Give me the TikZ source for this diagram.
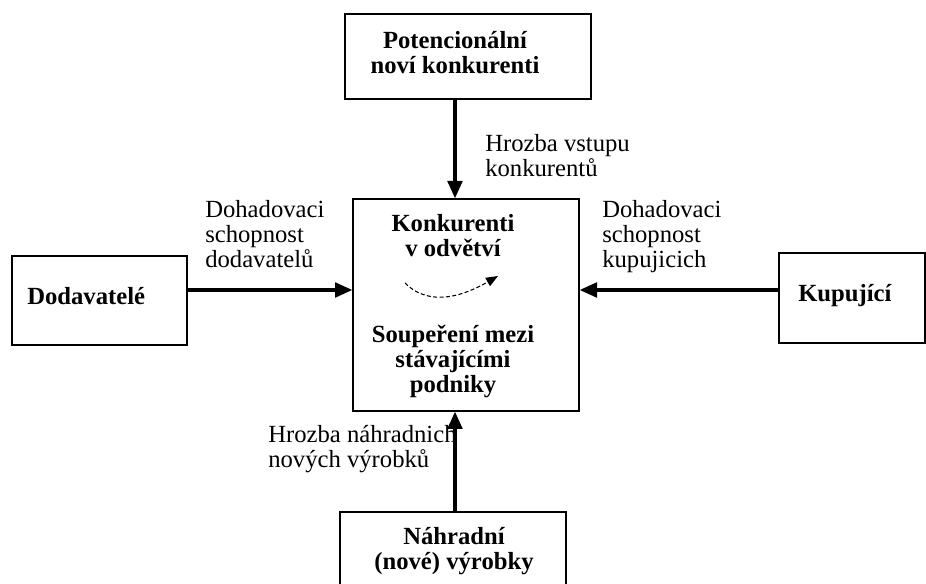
\documentclass[tikz,border=0pt]{standalone}
\usepackage{fontspec}
\setmainfont{Liberation Serif}
\usepackage{tikz}
\usetikzlibrary{arrows.meta}

\begin{document}
\begin{tikzpicture}[x=1pt,y=1pt,
  box/.style={draw,line width=1pt,inner sep=0pt},
  ttl/.style={font=\fontsize{18.5}{18.75}\selectfont\bfseries,align=center,inner sep=0pt},
  lbl/.style={font=\fontsize{18.5}{18.75}\selectfont,align=left,inner sep=0pt,anchor=base west},
  arr/.style={-{Triangle[length=13pt,width=11pt]},line width=2.4pt}]
\useasboundingbox (0,0) rectangle (694.5,438);
% boxes
\node[box,minimum width=184.5pt,minimum height=63.75pt] (pot) at (351,395.6) {};
\node[box,minimum width=169.5pt,minimum height=159pt] (konk) at (349.5,209.25) {};
\node[box,minimum width=131.25pt,minimum height=66.75pt] (dod) at (74.6,212.6) {};
\node[box,minimum width=109.5pt,minimum height=67.5pt] (kup) at (639,214.5) {};
\node[box,minimum width=169.5pt,minimum height=57pt] (nahr) at (339.75,25.5) {};
% box titles (base = last line)
\node[ttl,anchor=base] (potT) at (341.25,382.5) {Potencionální\\noví konkurenti};
\node[ttl,anchor=base] (konkT) at (339.75,245.25) {Konkurenti\\v odvětví};
\node[ttl,anchor=base] (soupT) at (339.75,143.25) {Soupeření mezi\\stávajícími\\podniky};
\node[ttl,anchor=base west] (dodT) at (20.25,209.25) {Dodavatelé};
\node[ttl,anchor=base west] (kupT) at (598.5,211.5) {Kupující};
\node[ttl,anchor=base] (nahrT) at (340.5,10.5) {Náhradní\\(nové) výrobky};
% arrow labels
\node[lbl] (vstupL) at (363.75,305.25) {Hrozba vstupu\\konkurentů};
\node[lbl] (dodL) at (153.75,237) {Dohadovaci\\schopnost\\dodavatelů};
\node[lbl] (kupL) at (451.5,237) {Dohadovaci\\schopnost\\kupujicich};
\node[lbl] (nahrL) at (201,87) {Hrozba náhradnich\\nových výrobků};
% arrows
\coordinate (axis) at (341.25,0);
\coordinate (mid) at (0,220.5);
\draw[arr] (pot.south -| axis) -- (konk.north -| axis);
\draw[arr] (nahr.north -| axis) -- (konk.south -| axis);
\draw[arr] (dod.east |- mid) -- (konk.west |- mid);
\draw[arr] (kup.west |- mid) -- (konk.east |- mid);
% rivalry
\coordinate (rivA) at (303.75,225.75);
\coordinate (rivB) at (373.5,231);
\draw[dash pattern=on 3pt off 1.8pt,line width=0.8pt,-{Triangle[length=9pt,width=7pt]}] (rivA) to[out=-45,in=-150] (rivB);
\end{tikzpicture}
\end{document}
